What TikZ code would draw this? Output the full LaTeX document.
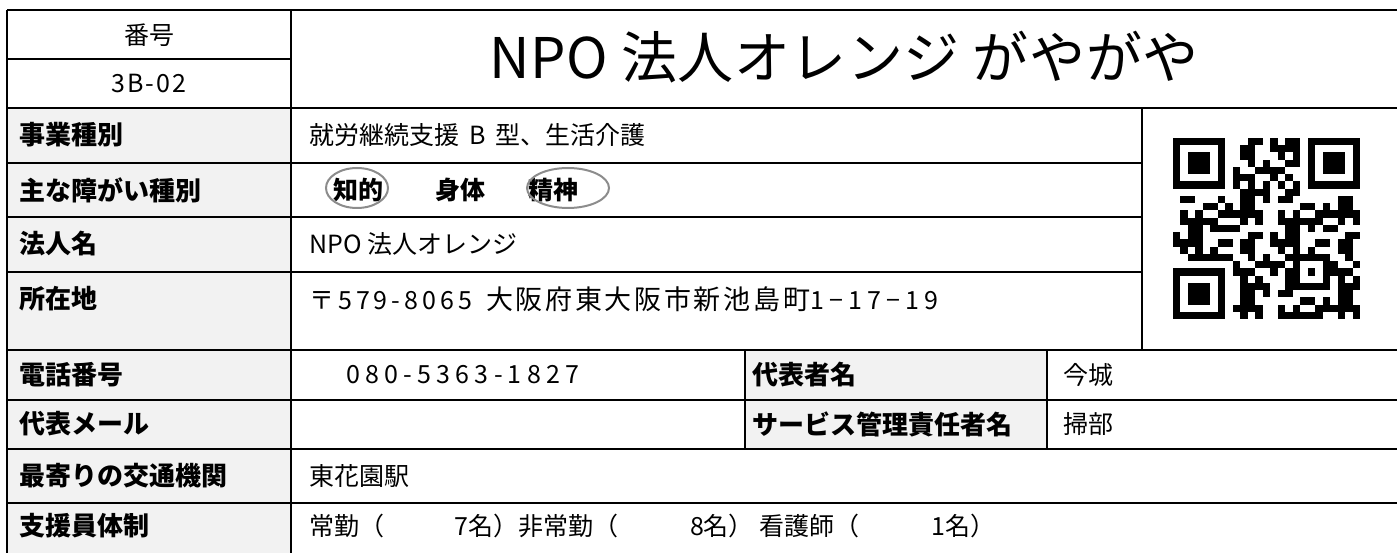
\documentclass[tikz,border=0pt]{standalone}
\usepackage{fontspec}
\usepackage{tikz}
\usepackage{xcolor}
\setmainfont{Noto Sans CJK JP}
\definecolor{cellgray}{HTML}{F2F2F2}
\definecolor{ovalgray}{HTML}{8C8C8C}

\tikzset{
    rule/.style={line width=2.3pt},
    lab/.style={anchor=west, inner sep=0pt, font=\fontsize{26}{30}\selectfont\bfseries},
    val/.style={anchor=west, inner sep=0pt, font=\fontsize{25}{30}\selectfont},
    digits/.style={anchor=west, inner sep=0pt, font=\fontsize{25}{30}\selectfont\addfontfeature{LetterSpace=21}},
    hcell/.style={inner sep=0pt, font=\fontsize{25}{30}\selectfont},
    oval/.style={draw=ovalgray, line width=2pt}
}

\begin{document}
\begin{tikzpicture}[x=1pt,y=-1pt]
            \useasboundingbox (0,0) rectangle (1397,553);

            % gray label cells
            \fill[cellgray] (7,108) rectangle (291,553);
            \fill[cellgray] (745,350) rectangle (1047,449);

            % table rules
            \draw[rule] (7,10) -- (1397,10);
            \draw[rule] (7,59) -- (291,59);
            \draw[rule] (7,108) -- (1397,108);
            \foreach \y in {163,217,272}
                \draw[rule] (7,\y) -- (1142,\y);
            \foreach \y in {350,400,449,503}
                \draw[rule] (7,\y) -- (1397,\y);
            \draw[rule] (7,10) -- (7,553);
            \draw[rule] (291,10) -- (291,553);
            \draw[rule] (1142,108) -- (1142,350);
            \foreach \x in {745,1047}
                \draw[rule] (\x,350) -- (\x,449);

            % header
            \node[hcell] (numhead) at (149,35) {番号};
            \node[hcell, font=\fontsize{25}{30}\selectfont\addfontfeature{LetterSpace=8}] (numval) at (149,84) {3B-02};
            \node[inner sep=0pt, font=\fontsize{56}{60}\selectfont\addfontfeature{LetterSpace=1}] (title) at (844,57) {NPO 法人オレンジ がやがや};

            % labels
            \foreach \nm/\y/\txt in {kind/135/事業種別, dis/190/主な障がい種別, corp/244/法人名,
                    addr/299/所在地, tel/375/電話番号, mail/424/代表メール,
                    stn/476/最寄りの交通機関, staff/526/支援員体制}
                \node[lab] (\nm) at (19,\y) {\txt};
            \node[lab] (rep) at (752,375) {代表者名};
            \node[lab] (svc) at (752,424) {サービス管理責任者名};

            % values
            \node[val] (kindv) at (309,135) {就労継続支援\hspace{10pt}B\hspace{10pt}型、生活介護};
            \node[val, font=\fontsize{25}{30}\selectfont\bfseries] (dis1) at (333,190) {知的};
            \node[val, font=\fontsize{25}{30}\selectfont\bfseries] (dis2) at (435,190) {身体};
            \node[val, font=\fontsize{25}{30}\selectfont\bfseries] (dis3) at (528,190) {精神};
            \draw[oval] (357,188) ellipse (31 and 20);
            \draw[oval] (568,188) ellipse (41 and 20);
            \node[val] (corpv) at (309,244) {NPO 法人オレンジ};
            \node[val] (addrv) at (309,299) {{\addfontfeature{LetterSpace=16}〒579-8065}\hspace{14pt}{\fontsize{27}{30}\selectfont\addfontfeature{LetterSpace=10}大阪府東大阪市新池島町}{\addfontfeature{LetterSpace=21}1−17−19}};
            \node[digits] (telv) at (346,375) {080-5363-1827};
            \node[val] (repv) at (1063,375) {今城};
            \node[val] (svcv) at (1063,424) {掃部};
            \node[val] (stnv) at (309,476) {東花園駅};
            \node[val] (staffv) at (309,526) {常勤（\hspace{70pt}7名）非常勤（\hspace{72pt}8名）\hspace{6pt}看護師（\hspace{72pt}1名）};

            % QR code
            \begin{scope}[shift={(1173,138)}, x=7.48pt, y=-7.24pt]
                \foreach \fx/\fy in {0/0, 18/0, 0/18} {
                    \fill (\fx,\fy) rectangle ++(7,7);
                    \fill[white] (\fx+1,\fy+1) rectangle ++(5,5);
                    \fill (\fx+2,\fy+2) rectangle ++(3,3);
                }
                \fill (16,16) rectangle ++(5,5);
                \fill[white] (17,17) rectangle ++(3,3);
                \fill (18,18) rectangle ++(1,1);
                \foreach \i in {8,10,...,16} {
                    \fill (\i,6) rectangle ++(1,1);
                    \fill (6,\i) rectangle ++(1,1);
                }
                \foreach \qr in {0,...,24} {
                    \foreach \qc in {0,...,24} {
                        \pgfmathtruncatemacro\skipit{((\qr<8)&&(\qc<8)) || ((\qr<8)&&(\qc>16)) || ((\qr>16)&&(\qc<8)) || ((\qr>15)&&(\qr<21)&&(\qc>15)&&(\qc<21)) || (\qr==6) || (\qc==6)}
                        \pgfmathtruncatemacro\on{mod(\qc*\qc*7+\qr*\qr*3+\qc*\qr*5+\qr*11+3,13)<6}
                        \ifnum\skipit=0 \ifnum\on=1 \fill (\qc,\qr) rectangle ++(1,1); \fi\fi
                    }
                }
            \end{scope}
        \end{tikzpicture}
\end{document}
